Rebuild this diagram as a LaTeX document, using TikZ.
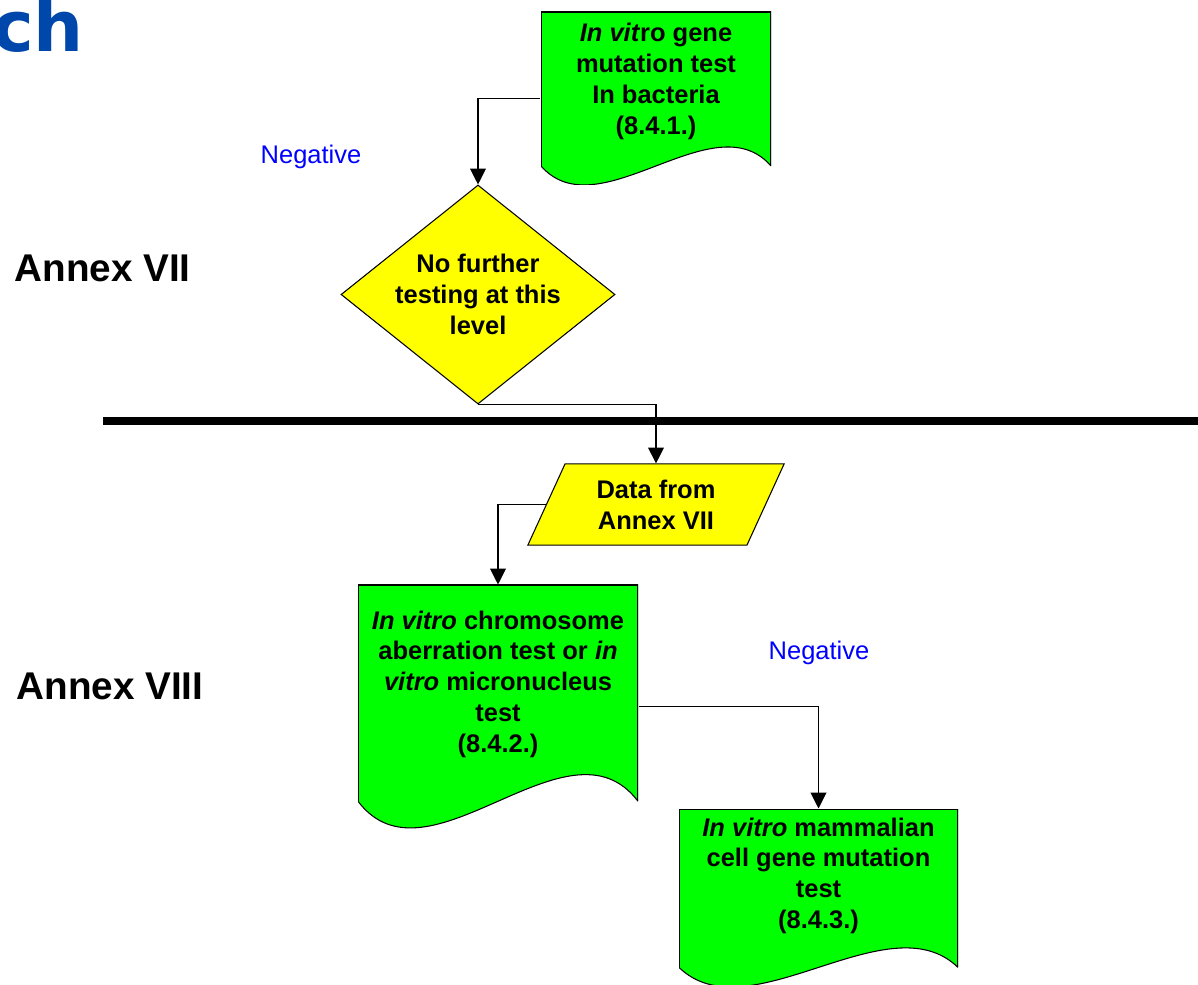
\documentclass[tikz,border=0pt]{standalone}
\usepackage{fontspec}
\setmainfont{Liberation Sans}
\newfontfamily\headfont{DejaVu Sans}
\usepackage{tikz}
\usetikzlibrary{arrows.meta,shapes.geometric,calc}

\definecolor{docgreen}{RGB}{0,255,0}
\definecolor{boxyellow}{RGB}{255,255,0}
\definecolor{headblue}{RGB}{0,71,171}

\begin{document}
\begin{tikzpicture}[->,>={Triangle[length=9pt,width=9pt]},line width=0.6pt,node distance=4cm,
  every node/.style={font=\bfseries\fontsize{14.5}{17.6}\selectfont,inner sep=0pt},
  docbox/.style n args={3}{rectangle,minimum width=#1,minimum height=#2,
    execute at begin node={\begin{minipage}[c][#2][t]{#1}\centering\rule{0pt}{#3}},
    execute at end node={\end{minipage}},
    path picture={
      \path[-,fill=docgreen] let \p1=(path picture bounding box.south west),\p2=(path picture bounding box.north east) in
        (\x1,\y2) -- (\x2,\y2) -- (\x2,{\y1+0.11*(\y2-\y1)})
        .. controls ({\x1+0.75*(\x2-\x1)},{\y1+0.49*(\y2-\y1)}) and ({\x1+0.25*(\x2-\x1)},{\y1-0.27*(\y2-\y1)}) .. (\x1,{\y1+0.11*(\y2-\y1)}) -- cycle;
      \draw[-,line width=1.2pt] let \p1=(path picture bounding box.south west),\p2=(path picture bounding box.north east) in
        (\x1,{\y1+0.11*(\y2-\y1)}) -- (\x1,\y2) -- (\x2,\y2) -- (\x2,{\y1+0.11*(\y2-\y1)});
      \draw[-,line width=0.6pt] let \p1=(path picture bounding box.south west),\p2=(path picture bounding box.north east) in
        (\x2,{\y1+0.11*(\y2-\y1)})
        .. controls ({\x1+0.75*(\x2-\x1)},{\y1+0.49*(\y2-\y1)}) and ({\x1+0.25*(\x2-\x1)},{\y1-0.27*(\y2-\y1)}) .. (\x1,{\y1+0.11*(\y2-\y1)});}},
  decision/.style={diamond,draw,fill=boxyellow,align=center,aspect=1.25,minimum width=5.48cm,minimum height=4.38cm},
  databox/.style={trapezium,draw,fill=boxyellow,align=center,trapezium left angle=65.4,trapezium right angle=114.6,
    inner xsep=0.63cm,inner ysep=0.315cm},
  annex/.style={font=\bfseries\fontsize{22}{26}\selectfont,anchor=west},
  result/.style={font=\fontsize{14.5}{17}\selectfont,text=blue}]
  \useasboundingbox (0,0) rectangle (23.96,-19.70);

  \node [docbox={4.6cm}{3.46cm}{0.6cm}] (0) at (13.12,-1.97) {\textit{In vit}ro gene\\mutation test\\In bacteria\\(8.4.1.)};
  \node [decision,below of=0,xshift=-3.56cm,yshift=0.08cm] (1) {No further\\testing at this\\level};
  \node [databox,below of=1,xshift=3.56cm,yshift=-0.2cm] (2) {Data from\\Annex VII};
  \node [docbox={5.6cm}{4.86cm}{0.88cm},below of=2,xshift=-3.16cm,yshift=-0.04cm] (3) {\textit{In vitro} chromosome\\aberration test or \textit{in}\\\textit{vitro} micronucleus\\test\\(8.4.2.)};
  \node [docbox={5.58cm}{3.56cm}{0.54cm},below of=3,xshift=6.41cm,yshift=0.17cm] (4) {\textit{In vitro} mammalian\\cell gene mutation\\test\\(8.4.3.)};

  \node [result] (5) at (6.22,-3.14) {Negative};
  \node [result] (6) at (16.38,-13.06) {Negative};
  \node [annex] (7) at (0.28,-5.36) {Annex VII};
  \node [annex] (8) at (0.32,-13.72) {Annex VIII};
  \node [font=\headfont\bfseries\fontsize{40}{48}\selectfont,text=headblue,anchor=base east] (9) at (1.69,-1.04) {ch};

  \draw [-,line width=4pt] (2.06,-8.42) -- (24.2,-8.42);

  \draw (0) -| (1);
  \draw (1.south) -| (2);
  \draw (2) -| (3);
  \draw (3) -| (4);

\end{tikzpicture}
\end{document}
